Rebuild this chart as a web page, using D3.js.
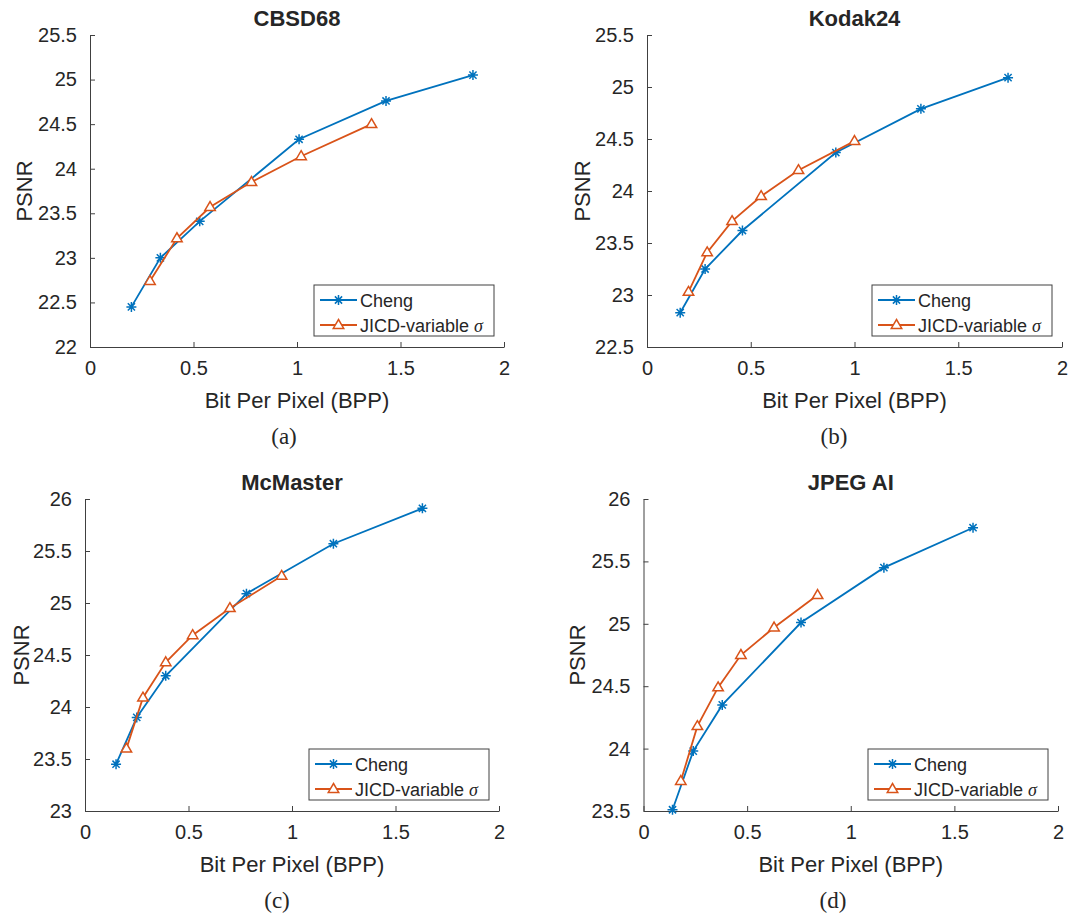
<!DOCTYPE html>
<html lang="en">
<head>
  <meta charset="utf-8">
  <title>PSNR vs BPP</title>
  <script src="https://cdn.jsdelivr.net/npm/d3@7"></script>
  <style>
    body { margin: 0; background: #fff; }
    text { font-family: "Liberation Sans", Arial, Helvetica, sans-serif; fill: #262626; }
  </style>
</head>
<body>
  <div id="chart"></div>
  <script>
    // data
    const bppTicks = [0, 0.5, 1, 1.5, 2];
    const seriesNames = ["Cheng", "JICD-variable"];

    const cbsdChengBpp = [0.20, 0.34, 0.53, 1.01, 1.43, 1.85];
    const cbsdChengPsnr = [22.45, 23.00, 23.41, 24.33, 24.76, 25.05];
    const cbsdJicdBpp = [0.29, 0.42, 0.58, 0.78, 1.02, 1.36];
    const cbsdJicdPsnr = [22.74, 23.22, 23.57, 23.85, 24.14, 24.50];

    const kodakChengBpp = [0.16, 0.28, 0.46, 0.91, 1.32, 1.74];
    const kodakChengPsnr = [22.83, 23.25, 23.62, 24.37, 24.79, 25.09];
    const kodakJicdBpp = [0.20, 0.29, 0.41, 0.55, 0.73, 1.00];
    const kodakJicdPsnr = [23.03, 23.41, 23.71, 23.95, 24.20, 24.48];

    const mcmChengBpp = [0.15, 0.25, 0.39, 0.78, 1.20, 1.63];
    const mcmChengPsnr = [23.45, 23.90, 24.30, 25.09, 25.57, 25.91];
    const mcmJicdBpp = [0.20, 0.28, 0.39, 0.52, 0.70, 0.95];
    const mcmJicdPsnr = [23.60, 24.09, 24.43, 24.69, 24.95, 25.26];

    const jpegChengBpp = [0.14, 0.24, 0.38, 0.76, 1.16, 1.59];
    const jpegChengPsnr = [23.51, 23.98, 24.35, 25.01, 25.45, 25.77];
    const jpegJicdBpp = [0.18, 0.26, 0.36, 0.47, 0.63, 0.84];
    const jpegJicdPsnr = [23.74, 24.18, 24.49, 24.75, 24.97, 25.23];

    const cbsdTicks = [22, 22.5, 23, 23.5, 24, 24.5, 25, 25.5];
    const kodakTicks = [22.5, 23, 23.5, 24, 24.5, 25, 25.5];
    const mcmTicks = [23, 23.5, 24, 24.5, 25, 25.5, 26];
    const jpegTicks = [23.5, 24, 24.5, 25, 25.5, 26];

    const zip = (xs, ys) => xs.map((x, i) => ({ x: x, y: ys[i] }));

    const panels = [
      { title: "CBSD68", caption: "(a)", yTicks: cbsdTicks,
        cheng: zip(cbsdChengBpp, cbsdChengPsnr), jicd: zip(cbsdJicdBpp, cbsdJicdPsnr),
        x0: 90, x1: 504, top: 35, bottom: 347, ylabX: 24, capX: 284 },
      { title: "Kodak24", caption: "(b)", yTicks: kodakTicks,
        cheng: zip(kodakChengBpp, kodakChengPsnr), jicd: zip(kodakJicdBpp, kodakJicdPsnr),
        x0: 647, x1: 1062, top: 35, bottom: 347, ylabX: 582, capX: 834 },
      { title: "McMaster", caption: "(c)", yTicks: mcmTicks,
        cheng: zip(mcmChengBpp, mcmChengPsnr), jicd: zip(mcmJicdBpp, mcmJicdPsnr),
        x0: 85, x1: 499, top: 499, bottom: 811, ylabX: 21, capX: 277 },
      { title: "JPEG AI", caption: "(d)", yTicks: jpegTicks,
        cheng: zip(jpegChengBpp, jpegChengPsnr), jicd: zip(jpegJicdBpp, jpegJicdPsnr),
        x0: 643.5, x1: 1058, top: 499, bottom: 811, ylabX: 577, capX: 833 }
    ];

    const blue = "#0072BD", orange = "#D95319", axisColor = "#404040";

    const svg = d3.select("#chart").append("svg")
      .attr("width", 1069).attr("height", 914);

    const starPath = function (r) {
      const d = r * 0.72;
      return "M" + (-r) + ",0H" + r + "M0," + (-r) + "V" + r +
        "M" + (-d) + "," + (-d) + "L" + d + "," + d +
        "M" + (-d) + "," + d + "L" + d + "," + (-d);
    };
    const triPath = function (r) {
      return "M0," + (-r) + "L" + (r * 0.95) + "," + (r * 0.62) + "L" + (-r * 0.95) + "," + (r * 0.62) + "Z";
    };

    function drawSeries(g, data, x, y, color, marker) {
      g.append("path")
        .datum(data)
        .attr("fill", "none")
        .attr("stroke", color)
        .attr("stroke-width", 1.8)
        .attr("d", d3.line().x(d => x(d.x)).y(d => y(d.y)));
      g.selectAll(null).data(data).enter()
        .append("path")
        .attr("transform", d => "translate(" + x(d.x) + "," + y(d.y) + ")")
        .attr("d", marker === "star" ? starPath(5) : triPath(5.5))
        .attr("fill", marker === "star" ? "none" : "#fff")
        .attr("stroke", color)
        .attr("stroke-width", 1.5);
    }

    panels.forEach(p => {
      const g = svg.append("g");
      const x = d3.scaleLinear().domain([0, 2]).range([p.x0, p.x1]);
      const y = d3.scaleLinear().domain(d3.extent(p.yTicks)).range([p.bottom, p.top]);

      // axes (MATLAB style: ticks inside, no box)
      const xAxis = g.append("g")
        .attr("transform", "translate(0," + p.bottom + ")")
        .call(d3.axisBottom(x).tickValues(bppTicks).tickSizeInner(-5).tickSizeOuter(0).tickPadding(14).tickFormat(d => String(d)));
      const yAxis = g.append("g")
        .attr("transform", "translate(" + p.x0 + ",0)")
        .call(d3.axisLeft(y).tickValues(p.yTicks).tickSizeInner(-5).tickSizeOuter(0).tickPadding(13).tickFormat(d => String(d)));
      [xAxis, yAxis].forEach(a => {
        a.select(".domain").attr("stroke", axisColor);
        a.selectAll(".tick line").attr("stroke", axisColor);
        a.selectAll(".tick text").attr("font-size", 20).attr("fill", "#262626")
          .attr("font-family", "'Liberation Sans', Arial, sans-serif");
      });

      drawSeries(g, p.cheng, x, y, blue, "star");
      drawSeries(g, p.jicd, x, y, orange, "tri");

      // title and labels
      g.append("text")
        .attr("x", (p.x0 + p.x1) / 2).attr("y", p.top - 9)
        .attr("text-anchor", "middle").attr("font-size", 22).attr("font-weight", "bold")
        .attr("fill", "#000")
        .text(p.title);
      g.append("text")
        .attr("x", (p.x0 + p.x1) / 2).attr("y", p.bottom + 61)
        .attr("text-anchor", "middle").attr("font-size", 22)
        .text("Bit Per Pixel (BPP)");
      g.append("text")
        .attr("transform", "translate(" + p.ylabX + "," + ((p.top + p.bottom) / 2) + ") rotate(-90)")
        .attr("text-anchor", "middle").attr("dominant-baseline", "central").attr("font-size", 22)
        .text("PSNR");
      g.append("text")
        .attr("x", p.capX).attr("y", p.bottom + 97)
        .attr("text-anchor", "middle").attr("font-size", 23)
        .style("font-family", "'Liberation Serif', 'Times New Roman', serif")
        .attr("fill", "#000")
        .text(p.caption);

      // legend
      const lw = 180, lh = 51;
      const lx = p.x1 - 10 - lw, ly = p.bottom - 11 - lh;
      const leg = g.append("g").attr("transform", "translate(" + lx + "," + ly + ")");
      leg.append("rect").attr("width", lw).attr("height", lh)
        .attr("fill", "#fff").attr("stroke", axisColor).attr("stroke-width", 1);
      [[blue, "star"], [orange, "tri"]].forEach((s, i) => {
        const ry = 15 + i * 25;
        leg.append("line").attr("x1", 6).attr("x2", 43).attr("y1", ry).attr("y2", ry)
          .attr("stroke", s[0]).attr("stroke-width", 1.8);
        leg.append("path").attr("transform", "translate(24.5," + ry + ")")
          .attr("d", s[1] === "star" ? starPath(5) : triPath(5.5))
          .attr("fill", s[1] === "star" ? "none" : "#fff")
          .attr("stroke", s[0]).attr("stroke-width", 1.5);
        const t = leg.append("text").attr("x", 46).attr("y", ry + 6.5).attr("font-size", 18)
          .text(seriesNames[i]);
        if (i === 1) {
          t.append("tspan").text(" ");
          t.append("tspan").style("font-family", "'Liberation Serif', serif")
            .attr("font-style", "italic").text("σ");
        }
      });
    });
  </script>
</body>
</html>
